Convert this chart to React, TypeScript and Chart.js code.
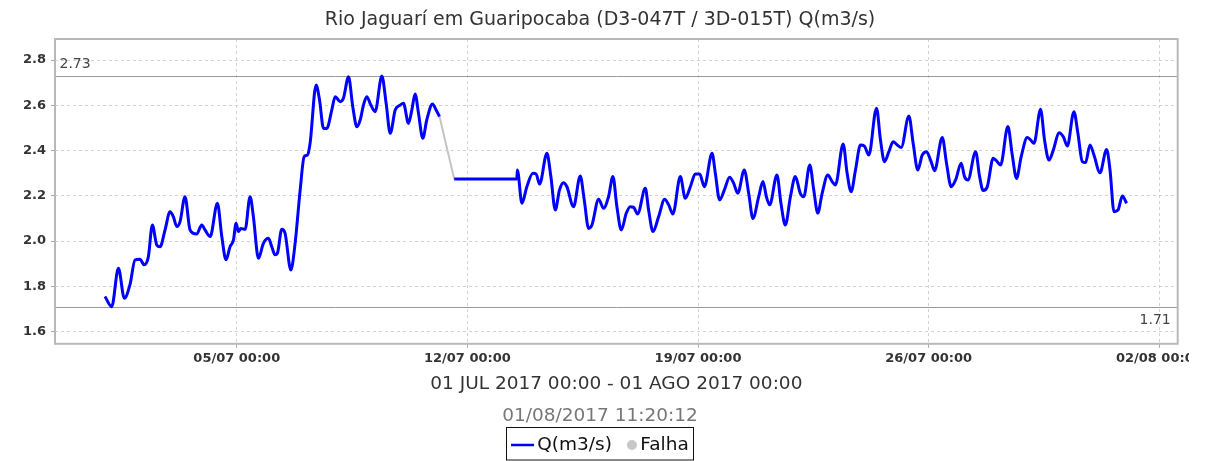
import React, { useEffect, useRef } from "react";
import { Chart, registerables } from "chart.js";

Chart.register(...registerables);

// ---- text ----
const chartTitle = "Rio Jaguarí em Guaripocaba (D3-047T / 3D-015T) Q(m3/s)";
const periodLabel = "01 JUL 2017 00:00 - 01 AGO 2017 00:00";
const updatedAt = "01/08/2017 11:20:12";
const seriesLabel = "Q(m3/s)";
const failureLabel = "Falha";

// ---- axes (x in hours since 01/07/2017 00:00) ----
const xTickHours = [96, 264, 432, 600, 768];
const xTickLabels = ["05/07 00:00", "12/07 00:00", "19/07 00:00", "26/07 00:00", "02/08 00:00"];
const yTickValues = [1.6, 1.8, 2.0, 2.2, 2.4, 2.6, 2.8];
const xRange = [-36.4, 781.4];
const yRange = [1.546, 2.893];

// ---- reference values ----
const maxValue = 2.73;
const minValue = 1.71;

// ---- series Q(m3/s) ----
const qHours = [
  0, 4.9, 9.8, 14.1, 18.3, 21.9, 25.5, 28.5, 31.6, 34.5, 37.7, 40.1, 43.8, 47.4, 49.8, 52.3, 54.7, 58.3,
  62.0, 66.8, 70.5, 72.9, 76.6, 81.9, 85.1, 88.2, 91.1, 93.6, 95.5, 97.2, 98.9, 102.1, 105.7, 108.1,
  111.8, 115.4, 119.1, 121.5, 123.9, 125.6, 128.8, 131.2, 135.4, 138.5, 142.2, 145.1, 147.5, 149.4,
  153.8, 156.3, 159.2, 161.6, 165.2, 167.7, 171.3, 173.7, 177.4, 180.5, 183.5, 185.9, 188.3, 190.7,
  193.7, 196.8, 201.7, 204.8, 207.8, 211.4, 215.0, 217.4, 221.1, 223.5, 225.9, 228.4, 231.5, 234.4,
  238.6, 241.2, 243.7,
  249.0,
  254.4, 300.0, 300.4, 303.7, 307.3, 311.7, 314.1, 316.6, 321.9, 324.8, 328.0, 331.1, 334.0, 336.5,
  341.3, 346.2, 349.1, 352.3, 354.7, 359.6, 363.2, 366.8, 370.0, 372.9, 376.1, 379.7, 382.6, 385.1,
  388.0, 393.6, 396.0, 399.2, 403.3, 407.7, 410.6, 413.7, 419.1, 422.7, 426.4, 430.0, 433.2, 436.6,
  442.2, 444.6, 447.7, 451.2, 455.0, 458.0, 460.9, 465.7, 468.9, 472.0, 476.2, 479.3, 481.8, 484.2,
  489.5, 492.4, 495.6, 499.3, 502.9, 506.5, 509.0, 513.4, 516.3, 519.2, 522.4, 526.5, 529.7, 532.1,
  537.7, 540.6, 543.5, 546.7, 550.3, 553.2, 556.4, 562.0, 564.9, 567.8, 571.0, 574.1, 577.1, 580.0,
  585.6, 588.7, 592.1, 595.3, 598.4, 601.4, 604.3, 609.9, 613.0, 616.4, 619.6, 623.7, 626.1, 628.6,
  634.2, 637.1, 639.7, 642.7, 647.0, 649.9, 652.4, 657.7, 660.9, 664.0, 667.4, 671.8, 674.2, 676.7,
  681.5, 684.4, 687.6, 690.8, 694.9, 698.1, 701.0, 705.8, 708.7, 711.9, 714.3, 717.5, 720.4, 724.8,
  729.6, 732.1, 735.0, 737.9, 741.1, 744.2,
];
const qValues = [
  1.755, 1.71, 1.88, 1.747, 1.81, 1.917, 1.92, 1.895, 1.93, 2.071, 1.983, 1.975, 2.05, 2.13, 2.108, 2.064, 2.086, 2.196,
  2.049, 2.031, 2.071, 2.049, 2.02, 2.167, 2.02, 1.917, 1.975, 2.005, 2.079, 2.042, 2.056, 2.052, 2.196, 2.108,
  1.924, 1.99, 2.012, 1.975, 1.939, 1.946, 2.052, 2.034, 1.872, 1.99, 2.226, 2.373, 2.38, 2.432,
  2.69, 2.623, 2.498, 2.498, 2.579, 2.638, 2.616, 2.631, 2.726, 2.594, 2.505, 2.535, 2.601, 2.638,
  2.601, 2.572, 2.73, 2.609, 2.476, 2.579, 2.601, 2.609, 2.52, 2.579, 2.65, 2.564, 2.454, 2.535,
  2.606, 2.579, 2.55,
  null,
  2.274, 2.274, 2.314, 2.167, 2.24, 2.3, 2.296, 2.252, 2.388, 2.285, 2.137, 2.226, 2.258, 2.24,
  2.152, 2.288, 2.182, 2.056, 2.071, 2.185, 2.145, 2.196, 2.285, 2.152, 2.049, 2.123, 2.152, 2.149,
  2.12, 2.233, 2.137, 2.042, 2.108, 2.185, 2.16, 2.12, 2.285, 2.189, 2.24, 2.296, 2.296, 2.24,
  2.388, 2.3, 2.182, 2.226, 2.282, 2.255, 2.211, 2.314, 2.211, 2.1, 2.196, 2.263, 2.196, 2.16,
  2.292, 2.167, 2.071, 2.196, 2.285, 2.211, 2.196, 2.336, 2.226, 2.123, 2.211, 2.292, 2.263, 2.248,
  2.429, 2.3, 2.218, 2.314, 2.425, 2.42, 2.38, 2.587, 2.447, 2.351, 2.395, 2.439, 2.425, 2.414,
  2.553, 2.432, 2.314, 2.38, 2.395, 2.358, 2.311, 2.458, 2.344, 2.24, 2.27, 2.344, 2.285, 2.27,
  2.395, 2.285, 2.223, 2.24, 2.366, 2.351, 2.336, 2.506, 2.38, 2.277, 2.373, 2.458, 2.447, 2.432,
  2.582, 2.447, 2.358, 2.402, 2.479, 2.461, 2.42, 2.572, 2.476, 2.351, 2.347, 2.425, 2.38, 2.302,
  2.405, 2.314, 2.13, 2.137, 2.199, 2.167,
];

// ---- series Falha ----
const falhaHours = [243.7, 254.4];
const falhaValues = [2.55, 2.274];

// ---- layout / style ----
const W = 1189;
const H = 461;
const PAD = { left: 22.3, right: 11.3, top: 0, bottom: 34 };
const FONT = '"DejaVu Sans", sans-serif';

const refLinesPlugin = {
  id: "refLines",
  beforeDatasetsDraw(chart: any) {
    const { ctx, chartArea, scales } = chart;
    const y = scales.y;
    ctx.save();
    ctx.strokeStyle = "#9a9a9a";
    ctx.lineWidth = 1;
    ctx.font = `14px ${FONT}`;
    ctx.fillStyle = "#444";
    ctx.textBaseline = "middle";
    const yMax = Math.round(y.getPixelForValue(maxValue)) + 0.5;
    const yMin = Math.round(y.getPixelForValue(minValue)) + 0.5;
    ctx.beginPath();
    ctx.moveTo(chartArea.left, yMax);
    ctx.lineTo(chartArea.right, yMax);
    ctx.moveTo(chartArea.left, yMin);
    ctx.lineTo(chartArea.right, yMin);
    ctx.stroke();
    ctx.textAlign = "left";
    ctx.fillText(maxValue.toFixed(2), chartArea.left + 4.5, yMax - 12.5);
    ctx.textAlign = "right";
    ctx.fillText(minValue.toFixed(2), chartArea.right - 7, yMin + 12.5);
    ctx.restore();
  },
  afterDatasetsDraw(chart: any) {
    const { ctx, chartArea } = chart;
    ctx.save();
    ctx.strokeStyle = "#b8b8b8";
    ctx.lineWidth = 2;
    ctx.strokeRect(chartArea.left, chartArea.top, chartArea.right - chartArea.left, chartArea.bottom - chartArea.top);
    ctx.restore();
  },
};

const boxLegendPlugin = {
  id: "boxLegend",
  afterDraw(chart: any) {
    const ctx = chart.ctx;
    const cx = (PAD.left + chart.width - PAD.right) / 2;
    ctx.save();
    ctx.font = `18.5px ${FONT}`;
    const items = chart.data.datasets.map((ds: any) => ({
      label: ds.label,
      color: ds.legendColor || ds.borderColor,
      style: ds.legendStyle,
      w: ctx.measureText(ds.label).width,
    }));
    const padL = 4.5, padR = 5, markGap = 3.3, itemGap = 15;
    const markW = (s: string) => (s === "line" ? 23 : 10);
    let total = padL + padR;
    items.forEach((it: any, i: number) => {
      total += markW(it.style) + markGap + it.w + (i > 0 ? itemGap : 0);
    });
    const top = chart.height - PAD.bottom + 0.5;
    const bh = PAD.bottom - 1.5;
    const left = Math.round(cx - total / 2) + 0.5;
    ctx.strokeStyle = "#111";
    ctx.lineWidth = 1;
    ctx.strokeRect(left, top, Math.round(total), bh);
    const cy = top + 17.5;
    let x = left + padL;
    items.forEach((it: any, i: number) => {
      if (i > 0) x += itemGap;
      if (it.style === "line") {
        ctx.strokeStyle = it.color;
        ctx.lineWidth = 2.5;
        ctx.beginPath();
        ctx.moveTo(x, cy);
        ctx.lineTo(x + 23, cy);
        ctx.stroke();
      } else {
        ctx.fillStyle = it.color;
        ctx.beginPath();
        ctx.arc(x + 5, cy, 5, 0, Math.PI * 2);
        ctx.fill();
      }
      x += markW(it.style) + markGap;
      ctx.fillStyle = "#111";
      ctx.textBaseline = "middle";
      ctx.textAlign = "left";
      ctx.fillText(it.label, x, cy);
      x += it.w;
    });
    ctx.restore();
  },
};

export default function App() {
  const canvasRef = useRef<HTMLCanvasElement | null>(null);

  useEffect(() => {
    if (!canvasRef.current) return;
    const qData = qHours.map((h, i) => ({ x: h, y: qValues[i] }));
    const falhaData = falhaHours.map((h, i) => ({ x: h, y: falhaValues[i] }));
    const tickFont = { family: FONT, size: 13, weight: "bold" as const };

    const chart = new Chart(canvasRef.current, {
      type: "line",
      data: {
        datasets: [
          {
            label: seriesLabel,
            data: qData,
            borderColor: "#0000ff",
            borderWidth: 3,
            pointRadius: 0,
            cubicInterpolationMode: "monotone",
            spanGaps: false,
            legendStyle: "line",
          } as any,
          {
            label: failureLabel,
            data: falhaData,
            borderColor: "#c4c4c4",
            legendColor: "#c8c8c8",
            borderWidth: 2,
            pointRadius: 0,
            legendStyle: "circle",
          } as any,
        ],
      },
      options: {
        responsive: false,
        animation: false,
        events: [],
        layout: { padding: PAD },
        plugins: {
          legend: { display: false },
          tooltip: { enabled: false },
          title: {
            display: true,
            text: chartTitle,
            color: "#333",
            font: { family: FONT, size: 19, weight: "normal" },
            padding: { top: 8.6, bottom: 7.6 },
          },
          subtitle: {
            display: true,
            text: updatedAt,
            position: "bottom",
            color: "#777",
            font: { family: FONT, size: 18.5, weight: "normal" },
            padding: { top: 10, bottom: 0 },
          },
        },
        scales: {
          x: {
            type: "linear",
            position: "bottom",
            min: xRange[0],
            max: xRange[1],
            afterBuildTicks: (s: any) => {
              s.ticks = xTickHours.map((v) => ({ value: v }));
            },
            afterFit: (s: any) => {
              s.height = 51;
              s.paddingLeft = 0;
              s.paddingRight = 0;
            },
            ticks: {
              autoSkip: false,
              maxRotation: 0,
              padding: 3,
              color: "#333",
              font: tickFont,
              callback: (_v: any, i: number) => xTickLabels[i],
            },
            grid: { color: "#d2d2d2", lineWidth: 1, tickLength: 4, tickColor: "#aaa" },
            border: { display: false, dash: [3, 3] },
            title: {
              display: true,
              text: periodLabel,
              color: "#333",
              font: { family: FONT, size: 18.5, weight: "normal" },
              padding: { top: 0, bottom: 0 },
            },
          },
          y: {
            type: "linear",
            min: yRange[0],
            max: yRange[1],
            afterBuildTicks: (s: any) => {
              s.ticks = yTickValues.map((v) => ({ value: v }));
            },
            afterFit: (s: any) => {
              s.width = 55 - PAD.left;
            },
            ticks: {
              padding: 5,
              color: "#333",
              font: tickFont,
              callback: (v: any) => Number(v).toFixed(1),
            },
            grid: { color: "#d2d2d2", lineWidth: 1, tickLength: 4, tickColor: "#aaa" },
            border: { display: false, dash: [3, 3] },
          },
        },
      },
      plugins: [refLinesPlugin, boxLegendPlugin],
    });
    return () => chart.destroy();
  }, []);

  return (
    <div style={{ position: "fixed", left: 0, top: 0, width: W, height: H, background: "#fff" }}>
      <canvas ref={canvasRef} width={W} height={H} style={{ display: "block", width: W, height: H }} />
    </div>
  );
}
